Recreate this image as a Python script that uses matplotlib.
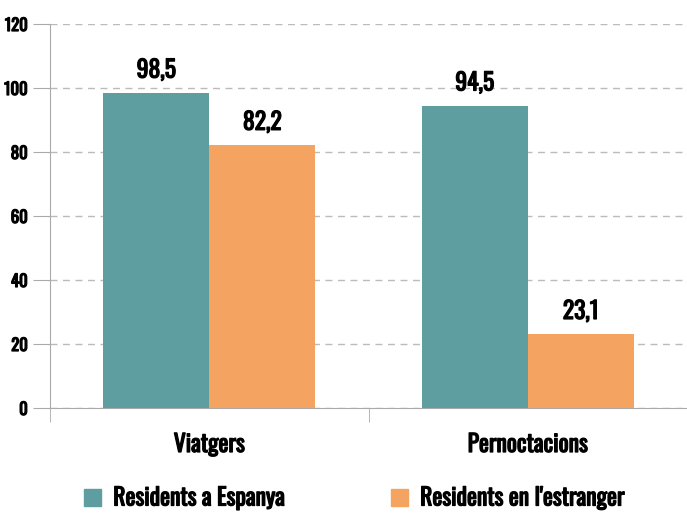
import matplotlib
matplotlib.use("Agg")
import matplotlib.pyplot as plt
import matplotlib.patheffects as pe
from matplotlib.patches import Patch
import numpy as np

categories = ["Viatgers", "Pernoctacions"]
series_names = ["Residents a Espanya", "Residents en l'estranger"]
espanya = [98.5, 94.5]
estranger = [82.2, 23.1]
yticks = [0, 20, 40, 60, 80, 100, 120]
colors = ["#5F9EA0", "#F4A460"]

plt.rcParams['font.family'] = ['Oswald', 'Antonio', 'DejaVu Sans']
plt.rcParams['font.weight'] = 'bold'

bold = [pe.withStroke(linewidth=0.9, foreground="black")]

fig = plt.figure(figsize=(6.87, 5.14), dpi=100)
ax = fig.add_axes([50/687, 106/514, 637/687, 384/514])

x = np.arange(len(categories))
w = 1/3
b1 = ax.bar(x - w/2, espanya, w, color=colors[0], zorder=3)
b2 = ax.bar(x + w/2, estranger, w, color=colors[1], zorder=3)

def fmt(v):
    return f"{v:.1f}".replace(".", ",")

for bars, vals in ((b1, espanya), (b2, estranger)):
    for r, v in zip(bars, vals):
        ax.annotate(fmt(v), (r.get_x() + r.get_width()/2, v), xytext=(0, 8),
                    textcoords="offset points", ha="center", va="bottom",
                    fontsize=17, fontweight="bold", color="black",
                    path_effects=bold)

ax.set_xlim(-0.5, 1.5)
ax.set_ylim(0, 120)
ax.set_yticks(yticks)
ax.set_yticklabels([str(t) for t in yticks], fontsize=12, fontweight="bold")
ax.yaxis.grid(True, linestyle=(0, (5, 4)), color="#bbbbbb", linewidth=1, zorder=0)
ax.set_xticks(x)
ax.set_xticklabels(categories, fontsize=17, fontweight="bold")
ax.set_xticks([-0.5, 0.5, 1.5], minor=True)
ax.tick_params(axis="x", which="major", length=0, pad=18)
ax.tick_params(axis="x", which="minor", length=10, color="#aaaaaa")
ax.tick_params(axis="y", length=12, color="#aaaaaa", pad=4)
for lbl in ax.get_xticklabels() + ax.get_yticklabels():
    lbl.set_path_effects(bold)

for s in ("top", "right"):
    ax.spines[s].set_visible(False)
ax.spines["left"].set_color("#aaaaaa")
ax.spines["bottom"].set_color("#aaaaaa")

handles = [Patch(color=c) for c in colors]
leg = fig.legend(handles, series_names, loc="center", bbox_to_anchor=(0.515, 16/514),
                 ncol=2, frameon=False, handlelength=0.75, handleheight=0.75,
                 columnspacing=4.5, handletextpad=0.5, prop={"weight": "bold", "size": 17})
for t in leg.get_texts():
    t.set_path_effects(bold)

fig.savefig("out.png", dpi=100)
